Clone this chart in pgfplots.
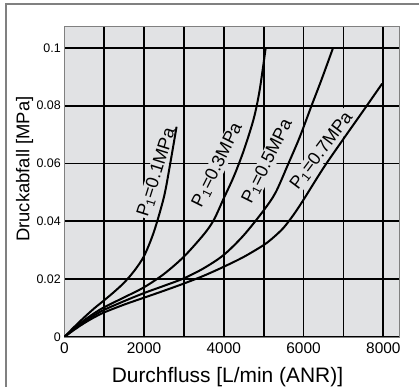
\documentclass[border=0pt]{standalone}
\usepackage{pgfplots}
\pgfplotsset{compat=1.18}
\usepackage{fontspec}
\setmainfont{Liberation Sans}
\definecolor{plotbg}{RGB}{225,226,228}
\definecolor{framegray}{RGB}{128,128,128}
\begin{document}
\begin{tikzpicture}
\path[use as bounding box] (-64.3bp,-50bp) rectangle (354.7bp,337bp);
\draw[framegray, line width=1.6bp] (-58.3bp,-50bp) -- (-58.3bp,333bp) -- (354.7bp,333bp);
\begin{axis}[
  scale only axis,
  width=335bp, height=310.3bp,
  xmin=0, xmax=8400, ymin=0, ymax=0.1073,
  axis background/.style={fill=plotbg},
  axis line style={draw=framegray, line width=0.6bp},
  xtick={0,2000,4000,6000,8000},
  minor xtick={1000,2000,3000,4000,5000,6000,7000,8000},
  ytick={0,0.02,0.04,0.06,0.08,0.1},
  xmajorgrids=false, xminorgrids=true, ymajorgrids=true,
  minor grid style={black, line width=1.8bp},
  major grid style={black, line width=1.8bp},
  major tick length=0pt, minor tick length=0pt,
  /pgf/number format/assume math mode=true,
  /pgf/number format/1000 sep={},
  yticklabel style={font=\fontsize{12.5}{14}\selectfont, inner sep=0pt, anchor=east, xshift=-3.3bp, /pgf/number format/fixed, /pgf/number format/precision=2},
  xticklabel style={font=\fontsize{15.5}{17}\selectfont, inner sep=0pt, anchor=north, yshift=-5.7bp},
  xlabel={Durchfluss [L/min (ANR)]},
  ylabel={Druckabfall [MPa]},
  xlabel style={font=\fontsize{21}{24}\selectfont, at={(axis description cs:0.487,-0.1473)}, anchor=base, inner sep=0pt},
  ylabel style={font=\fontsize{18.5}{21}\selectfont, at={(axis description cs:-0.1045,0.541)}, anchor=base, inner sep=0pt, rotate=0},
  clip=true,
]
\begin{scope}[every node/.style={fill=plotbg, inner sep=1.2bp, font=\fontsize{18}{20}\selectfont}]
\node[rotate=72.5] at (axis cs:2317,0.0569) {P\textsubscript{1}=0.1MPa};
\node[rotate=63.5] at (axis cs:3843,0.0595) {P\textsubscript{1}=0.3MPa};
\node[rotate=63.5] at (axis cs:5095,0.0606) {P\textsubscript{1}=0.5MPa};
\node[rotate=53] at (axis cs:6455,0.0644) {P\textsubscript{1}=0.7MPa};
\end{scope}
\addplot[black, line width=2bp, smooth] coordinates {
(0,0)(250,0.0035)(500,0.0068)(750,0.0099)(1000,0.0127)(1250,0.0156)(1500,0.0188)(1750,0.0228)(2000,0.0280)(2250,0.0365)(2500,0.0485)(2650,0.0595)(2815,0.0727)};
\addplot[black, line width=2bp, smooth] coordinates {
(0,0)(250,0.0030)(500,0.0058)(750,0.0082)(1000,0.0103)(1500,0.0137)(2000,0.0172)(2500,0.0218)(3000,0.0278)(3500,0.0355)(3750,0.0405)(4000,0.0480)(4250,0.0555)(4500,0.0645)(4750,0.0755)(4900,0.0855)(5050,0.1)};
\addplot[black, line width=2bp, smooth] coordinates {
(0,0)(250,0.0028)(500,0.0053)(750,0.0075)(1000,0.0094)(1500,0.0124)(2000,0.0152)(2500,0.0177)(3000,0.0203)(3500,0.0238)(4000,0.0284)(4500,0.0352)(5000,0.0438)(5300,0.0500)(5620,0.0600)(5900,0.0690)(6200,0.0800)(6450,0.0890)(6740,0.1)};
\addplot[black, line width=2bp, smooth] coordinates {
(0,0)(250,0.0025)(500,0.0048)(750,0.0068)(1000,0.0085)(1500,0.0112)(2000,0.0136)(2500,0.0160)(3000,0.0185)(3500,0.0212)(4000,0.0243)(4500,0.0277)(5000,0.0318)(5250,0.0345)(5500,0.0378)(5750,0.0423)(6000,0.0475)(6500,0.0585)(7000,0.0685)(7500,0.0783)(7970,0.0876)};
\end{axis}
\end{tikzpicture}
\end{document}
